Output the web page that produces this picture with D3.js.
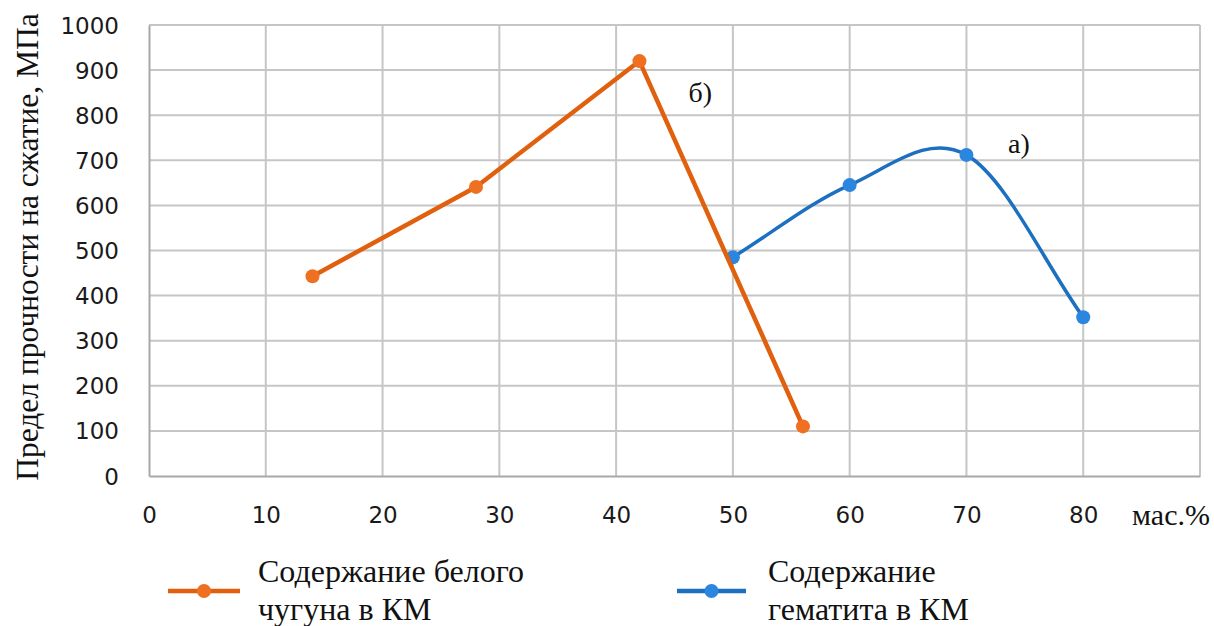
<!DOCTYPE html>
<html>
<head>
<meta charset="utf-8">
<script src="https://cdn.jsdelivr.net/npm/d3@7"></script>
<style>
  html, body { margin: 0; padding: 0; background: #fff; }
  svg { display: block; }
</style>
</head>
<body>
<svg id="chart" width="1214" height="626"></svg>
<script>
// Compressive strength vs. filler content
const xTicks = [0, 10, 20, 30, 40, 50, 60, 70, 80];
const yTicks = [0, 100, 200, 300, 400, 500, 600, 700, 800, 900, 1000];

const ironContent = [14, 28, 42, 56];          // белый чугун, мас.%
const ironStrength = [443, 641, 920, 110];     // МПа

const hematiteContent = [50, 60, 70, 80];      // гематит, мас.%
const hematiteStrength = [485, 645, 712, 352]; // МПа

const seriesNames = ["Содержание белого|чугуна в КМ", "Содержание|гематита в КМ"];
const seriesColors = ["#E0600E", "#1D6FBF"];
const markerColors = ["#EE7020", "#2A86DE"];

const svg = d3.select("#chart");
const serif = "'Liberation Serif', 'Times New Roman', serif";
const sans = "'DejaVu Sans', Verdana, sans-serif";

const x = d3.scaleLinear().domain([0, 90]).range([149, 1200]);
const y = d3.scaleLinear().domain([0, 1000]).range([476, 25]);

// Smoothed line in the style of spreadsheet charts: Catmull-Rom segments,
// with the end tangents pointing straight at the neighbouring point.
function smoothCurve(context) {
  let pts = [];
  return {
    areaStart() {}, areaEnd() {},
    lineStart() { pts = []; },
    point(px, py) { pts.push([px, py]); },
    lineEnd() {
      const n = pts.length;
      if (!n) return;
      context.moveTo(pts[0][0], pts[0][1]);
      const P = i => {
        if (i < 0) return [2 * pts[0][0] - pts[1][0], 2 * pts[0][1] - pts[1][1]];
        if (i >= n) return [2 * pts[n - 1][0] - pts[n - 2][0], 2 * pts[n - 1][1] - pts[n - 2][1]];
        return pts[i];
      };
      for (let i = 0; i < n - 1; i++) {
        const p0 = P(i - 1), p1 = P(i), p2 = P(i + 1), p3 = P(i + 2);
        context.bezierCurveTo(
          p1[0] + (p2[0] - p0[0]) / 6, p1[1] + (p2[1] - p0[1]) / 6,
          p2[0] - (p3[0] - p1[0]) / 6, p2[1] - (p3[1] - p1[1]) / 6,
          p2[0], p2[1]);
      }
    }
  };
}

// grid
const grid = svg.append("g");
grid.selectAll("line.v").data(d3.range(10, 91, 10)).join("line")
  .attr("x1", d => x(d)).attr("x2", d => x(d))
  .attr("y1", y(1000)).attr("y2", y(0))
  .attr("stroke", "#c6c6c6").attr("stroke-width", 2);
grid.selectAll("line.h").data(yTicks.slice(1)).join("line")
  .attr("x1", x(0)).attr("x2", x(90))
  .attr("y1", d => y(d)).attr("y2", d => y(d))
  .attr("stroke", "#c6c6c6").attr("stroke-width", 2);

// axes
const xAxis = d3.axisBottom(x).tickValues(xTicks).tickFormat(d3.format("d")).tickSize(0);
const yAxis = d3.axisLeft(y).tickValues(yTicks).tickFormat(d3.format("d")).tickSize(0).tickPadding(30);

const gx = svg.append("g").attr("transform", `translate(0,${y(0)})`).call(xAxis);
const gy = svg.append("g").attr("transform", `translate(${x(0)},0)`).call(yAxis);
[gx, gy].forEach(g => {
  g.select(".domain").attr("stroke", "#a8a8a8").attr("stroke-width", 2);
  g.selectAll("text").attr("font-family", sans).attr("font-size", 23).attr("fill", "#1a1a1a");
});
gx.selectAll("text").attr("dy", "0.35em").attr("y", 39);
gy.selectAll("text").attr("dy", "0.35em");

// unit label on x axis
svg.append("text").attr("x", 1210).attr("y", 525).attr("text-anchor", "end")
  .attr("font-family", serif).attr("font-size", 30).attr("fill", "#111")
  .text("мас.%");

// y axis title
svg.append("text")
  .attr("transform", `translate(38,${(13 + 481) / 2}) rotate(-90)`)
  .attr("text-anchor", "middle")
  .attr("font-family", serif).attr("font-size", 31.5).attr("fill", "#111")
  .text("Предел прочности на сжатие, МПа");

// series
const ironData = ironContent.map((c, i) => [c, ironStrength[i]]);
const hemData = hematiteContent.map((c, i) => [c, hematiteStrength[i]]);

const straight = d3.line().x(d => x(d[0])).y(d => y(d[1]));
const smooth = d3.line().x(d => x(d[0])).y(d => y(d[1])).curve(smoothCurve);

svg.append("path").datum(hemData).attr("d", smooth)
  .attr("fill", "none").attr("stroke", seriesColors[1]).attr("stroke-width", 3.5);
svg.append("g").selectAll("circle").data(hemData).join("circle")
  .attr("cx", d => x(d[0])).attr("cy", d => y(d[1])).attr("r", 7)
  .attr("fill", markerColors[1]);

svg.append("path").datum(ironData).attr("d", straight)
  .attr("fill", "none").attr("stroke", seriesColors[0]).attr("stroke-width", 4.5)
  .attr("stroke-linejoin", "round");
svg.append("g").selectAll("circle").data(ironData).join("circle")
  .attr("cx", d => x(d[0])).attr("cy", d => y(d[1])).attr("r", 7)
  .attr("fill", markerColors[0]);

// series tags
svg.append("text").attr("x", x(47.2)).attr("y", y(850)).attr("dy", "0.35em")
  .attr("text-anchor", "middle").attr("font-family", serif).attr("font-size", 28).attr("fill", "#111")
  .text("б)");
svg.append("text").attr("x", x(74.5)).attr("y", y(737)).attr("dy", "0.35em")
  .attr("text-anchor", "middle").attr("font-family", serif).attr("font-size", 28).attr("fill", "#111")
  .text("а)");

// legend
const legendX = [[168, 240, 258], [677, 746, 768]];
seriesNames.forEach((name, i) => {
  const [x0, x1, tx] = legendX[i];
  const g = svg.append("g");
  g.append("line").attr("x1", x0).attr("x2", x1).attr("y1", 591).attr("y2", 591)
    .attr("stroke", seriesColors[i]).attr("stroke-width", 4.5);
  g.append("circle").attr("cx", (x0 + x1) / 2).attr("cy", 591).attr("r", 7).attr("fill", markerColors[i]);
  const t = g.append("text").attr("font-family", serif).attr("font-size", 32).attr("fill", "#111");
  name.split("|").forEach((line, k) => {
    t.append("tspan").attr("x", tx).attr("y", 582 + k * 38).text(line);
  });
});
</script>
</body>
</html>
